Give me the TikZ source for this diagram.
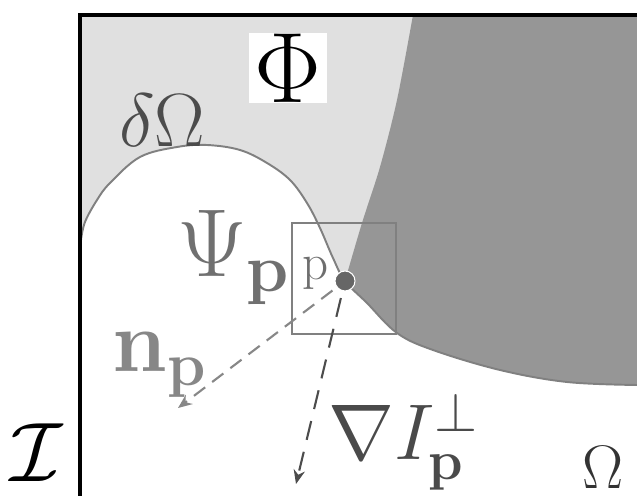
\RequirePackage{fix-cm}
\documentclass[tikz,border=0pt]{standalone}
\usetikzlibrary{arrows.meta}

\definecolor{lightreg}{gray}{0.88}
\definecolor{darkreg}{gray}{0.59}

\begin{document}
\begin{tikzpicture}[x=0.02cm, y=-0.02cm,
  lbl/.style={inner sep=0pt, anchor=base west},
  dot/.style={circle, fill=black!60, draw=white, line width=0.6pt, inner sep=0pt, minimum size=0.4cm},
  normal/.style={black!47, line width=1.2pt, dash pattern=on 8pt off 5pt, shorten <=3pt, -{Stealth[length=8pt,width=6.5pt]}},
  gradperp/.style={black!70, line width=1.2pt, dash pattern=on 11pt off 7pt, shorten <=4pt, -{Stealth[length=8pt,width=6.5pt]}}]

% Picture frame (in pixels of the image)
\useasboundingbox (0,0) rectangle (637,496);

% Light grey region Phi
\fill[lightreg] (80,15) rectangle (637,496);

% White region Omega, below the boundary
\fill[white] (81,496) -- plot[smooth, tension=0.6] coordinates {(81,240) (85,222) (97,200) (110,183) (140,157) (177,147) (207,145) (240,150) (267,163) (290,180) (307,203) (320,228) (333,258) (345,281) (367,303) (397,333) (433,350) (500,370) (567,382) (637,385)} -- (637,496) -- cycle;

% Dark grey region
\fill[darkreg] plot[smooth] coordinates {(413,15) (397,100) (380,167) (362,223) (345,281)} -- plot[smooth, tension=0.6] coordinates {(345,281) (367,303) (397,333) (433,350) (500,370) (567,382) (637,385)} -- (637,15) -- cycle;

% Boundary delta Omega
\draw[black!50, line width=1.1pt] plot[smooth, tension=0.6] coordinates {(81,240) (85,222) (97,200) (110,183) (140,157) (177,147) (207,145) (240,150) (267,163) (290,180) (307,203) (320,228) (333,258) (345,281) (367,303) (397,333) (433,350) (500,370) (567,382) (637,385)};

% Frame of the image I
\draw[line width=1.8pt] (80,496) -- (80,15) -- (637,15);

% Patch Psi_p round p
\draw[black!50, line width=0.9pt] (292,223) rectangle (396,334);

% Point p and the two directions
\node[dot] (p) at (345,281) {};
\coordinate (ntip) at (178,408);
\coordinate (gtip) at (296,484);
\draw[normal] (p) -- (ntip);
\draw[gradperp] (p) -- (gtip);

% Labels
\node[fill=white, inner sep=0pt, minimum width=1.58cm, minimum height=1.4cm] (phi) at (288,68) {\fontsize{57}{60}\selectfont$\Phi$};
\node[lbl, text=black!70] (domega) at (119,147) {\fontsize{43}{46}\selectfont$\delta\Omega$};
\node[lbl, text=black!56] (psi) at (177,277) {\fontsize{55}{58}\selectfont$\Psi_{\mathbf{p}}$};
\node[lbl, text=black!57] (plabel) at (302,280) {\fontsize{29}{31}\selectfont$\mathrm{p}$};
\node[lbl, text=black!47] (nlabel) at (112,372) {\fontsize{50}{53}\selectfont$\mathbf{n}_{\mathbf{p}}$};
\node[lbl, text=black!71] (gradlabel) at (328,460) {\fontsize{45}{48}\selectfont$\nabla I_{\mathbf{p}}^{\perp}$};
\node[lbl] (image) at (10,482) {\fontsize{48}{50}\selectfont$\mathcal{I}$};
\node[lbl, text=black!80] (omega) at (582,489) {\fontsize{35}{37}\selectfont$\Omega$};

\end{tikzpicture}
\end{document}
